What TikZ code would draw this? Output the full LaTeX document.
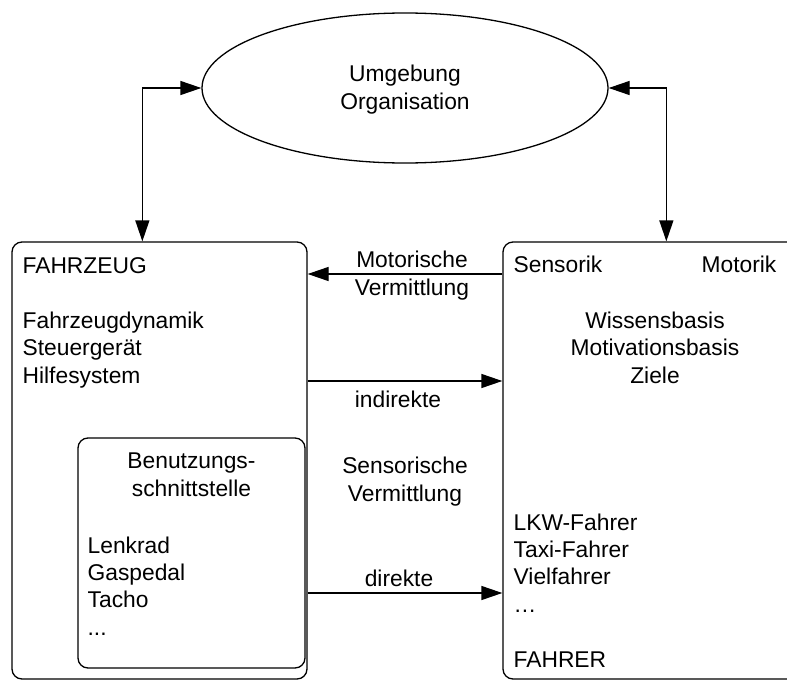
\documentclass[tikz,border=0pt]{standalone}
\usepackage{fontspec}
\setmainfont{Liberation Sans}
\usetikzlibrary{shapes.geometric,arrows.meta}
\begin{document}
\begin{tikzpicture}[x=1pt,y=-1pt,
  line width=1.3pt,
  txt/.style={font=\fontsize{22.8pt}{27.3pt}\selectfont, inner sep=0pt},
  box/.style={draw, rectangle, rounded corners=10pt, inner sep=0pt},
  cloud/.style={draw, ellipse, inner sep=0pt},
  arr/.style={-{Triangle[length=21pt,width=14pt]}},
  biarr/.style={{Triangle[length=21pt,width=14pt]}-{Triangle[length=21pt,width=14pt]}}
]
\clip (0,0) rectangle (787,680);

% environment
\node[cloud, minimum width=406pt, minimum height=150pt] (env) at (405,88) {};
\node[txt, anchor=base, align=center] (envtxt) at (env.center |- 0,109)
  {Umgebung\\Organisation};

% vehicle, driver and user interface
\node[box, minimum width=295pt, minimum height=437pt] (fz) at (159.5,460.5) {};
\node[box, minimum width=310pt, minimum height=437pt] (fa) at (658,460.5) {};
\node[box, minimum width=227pt, minimum height=230pt] (ui) at (191.5,553) {};

% texts inside the vehicle box (anchored at the baseline of the last line)
\node[txt, anchor=base west, align=left] (fztxt) at (22,383)
  {FAHRZEUG\\[27.7pt]Fahrzeugdynamik\\Steuergerät\\Hilfesystem};
\node[txt, anchor=base, align=center] (uihead) at (191.5,496)
  {Benutzungs-\\schnittstelle};
\node[txt, anchor=base west, align=left] (uilist) at (87,635)
  {Lenkrad\\Gaspedal\\Tacho\\...};

% texts inside the driver box
\node[txt, anchor=base west] (sens) at (513,272) {Sensorik};
\node[txt, anchor=base east] (mot) at (777,272) {Motorik};
\node[txt, anchor=base, align=center] (wiss) at (655,383)
  {Wissensbasis\\Motivationsbasis\\Ziele};
\node[txt, anchor=base west, align=left] (types) at (513,667)
  {LKW-Fahrer\\Taxi-Fahrer\\Vielfahrer\\…\\[27.7pt]FAHRER};

% heights of the horizontal links
\coordinate (ymot) at (0,274);
\coordinate (yind) at (0,381);
\coordinate (ydir) at (0,593);

% links to the environment
\draw[biarr] (env.west) -| ([xshift=131pt]fz.north west);
\draw[biarr] (env.east) -| ([xshift=164pt]fa.north west);

% links between driver and vehicle
\draw[arr] (fa.west |- ymot) -- (fz.east |- ymot);
\draw[arr] (fz.east |- yind) -- (fa.west |- yind);
\draw[arr] (fz.east |- ydir) -- (fa.west |- ydir);

% link labels
\node[txt, anchor=base, align=center] (lmot) at (412,295) {Motorische\\Vermittlung};
\node[txt, anchor=base] (lind) at (398,407) {indirekte};
\node[txt, anchor=base, align=center] (lsens) at (405,501) {Sensorische\\Vermittlung};
\node[txt, anchor=base] (ldir) at (399,586) {direkte};
\end{tikzpicture}
\end{document}
